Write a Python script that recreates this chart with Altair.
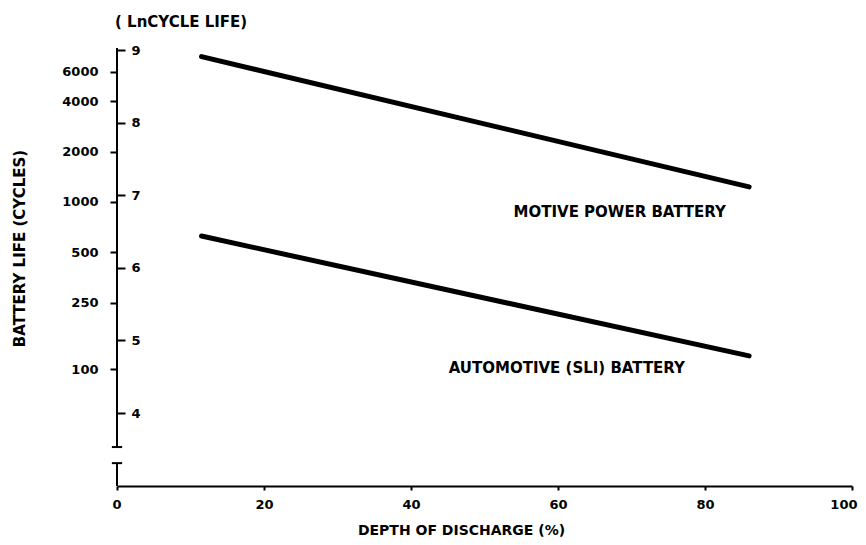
import math
import altair as alt
import pandas as pd

# ---- data ----
dod = [11.5, 86.0]                      # depth of discharge (%)
motive_cycles = [7400, 1230]            # motive power battery life (cycles)
auto_cycles = [625, 120]                # automotive (SLI) battery life (cycles)
series_names = ["MOTIVE POWER BATTERY", "AUTOMOTIVE (SLI) BATTERY"]
label_x = [68.4, 61.2]
label_y = [870, 101]

cycle_ticks = [100, 250, 500, 1000, 2000, 4000, 6000]
ln_ticks = [4, 5, 6, 7, 8, 9]
x_ticks = [0, 20, 40, 60, 80, 100]

y_domain = [20, 8330]
axis_segments_lo = [34.2, 20]           # broken y axis: segment lower ends
axis_segments_hi = [8330, 27.4]         # segment upper ends
break_marks = [34.2, 27.4]

F = "DejaVu Sans"

lines_df = pd.DataFrame({
    "dod": dod + dod,
    "cycles": motive_cycles + auto_cycles,
    "series": [series_names[0]] * 2 + [series_names[1]] * 2,
})
labels_df = pd.DataFrame({"x": label_x, "y": label_y, "text": series_names})
spine_df = pd.DataFrame({"x": [0, 0], "y": axis_segments_lo, "y2": axis_segments_hi})
caps_df = pd.DataFrame({"x": [-0.7, -0.7], "x2": [0.7, 0.7], "y": break_marks})
ln_df = pd.DataFrame({"y": [math.exp(v) for v in ln_ticks], "x": [0] * len(ln_ticks)})

xscale = alt.Scale(domain=[0, 100], nice=False, zero=False)
yscale = alt.Scale(type="log", domain=y_domain, nice=False)

xaxis = alt.Axis(
    values=x_ticks, title="DEPTH OF DISCHARGE (%)", grid=False,
    domainColor="black", domainWidth=2, tickColor="black", tickWidth=2, tickSize=4,
    labelFont=F, labelFontWeight="bold", labelFontSize=13, labelColor="black",
    labelPadding=8, labelFlush=True, labelFlushOffset=5,
    titleFont=F, titleFontWeight="bold", titleFontSize=14, titleColor="black",
    titleX=344, titleY=44, titleAlign="center", titleBaseline="middle",
)
yaxis_left = alt.Axis(
    values=cycle_ticks, format="d", grid=False, domain=False,
    tickColor="black", tickWidth=2, tickSize=7,
    labelFont=F, labelFontWeight="bold", labelFontSize=13, labelColor="black",
    labelPadding=12,
    title="BATTERY LIFE (CYCLES)", titleFont=F, titleFontWeight="bold",
    titleFontSize=15, titleColor="black", titleAngle=270,
    titleX=-98, titleY=200, titleAlign="center", titleBaseline="middle",
)
yaxis_ln = alt.Axis(
    orient="right", offset=-735, values=[math.exp(v) for v in ln_ticks],
    labelExpr="'' + round(log(datum.value))", grid=False, domain=False,
    tickColor="black", tickWidth=2, tickSize=8,
    labelFont=F, labelFontWeight="bold", labelFontSize=13, labelColor="black",
    labelPadding=6, title=None,
)

X = lambda f: alt.X(f, scale=xscale, axis=xaxis)

lines = alt.Chart(lines_df).mark_line(color="black", strokeWidth=5, strokeCap="round").encode(
    x=X("dod:Q"),
    y=alt.Y("cycles:Q", scale=yscale, axis=yaxis_left),
    detail="series:N",
)
labels = alt.Chart(labels_df).mark_text(
    font=F, fontWeight="bold", fontSize=15, color="black", align="center", baseline="middle"
).encode(
    x=X("x:Q"),
    y=alt.Y("y:Q", scale=yscale, axis=yaxis_left),
    text="text:N",
)
spine = alt.Chart(spine_df).mark_rule(color="black", strokeWidth=2).encode(
    x=X("x:Q"),
    y=alt.Y("y:Q", scale=yscale, axis=yaxis_left),
    y2="y2:Q",
)
caps = alt.Chart(caps_df).mark_rule(color="black", strokeWidth=2).encode(
    x=X("x:Q"),
    x2="x2:Q",
    y=alt.Y("y:Q", scale=yscale, axis=yaxis_left),
)
main = alt.layer(lines, labels, spine, caps)

ln_layer = alt.Chart(ln_df).mark_point(opacity=0).encode(
    x=X("x:Q"),
    y=alt.Y("y:Q", scale=yscale, axis=yaxis_ln),
)

chart = alt.layer(main, ln_layer).resolve_scale(y="independent").properties(
    width=735, height=438,
    autosize=alt.AutoSizeParams(type="none"),
    padding={"left": 109, "top": 40, "right": 6, "bottom": 51},
    title=alt.TitleParams(
        "( LnCYCLE LIFE)", anchor="start", frame="group", font=F, fontWeight="bold",
        fontSize=15, color="black", offset=14, dx=-2,
    ),
    background="white",
).configure_view(stroke=None)

chart.save("out.html", embed_options={"renderer": "svg", "actions": False})
